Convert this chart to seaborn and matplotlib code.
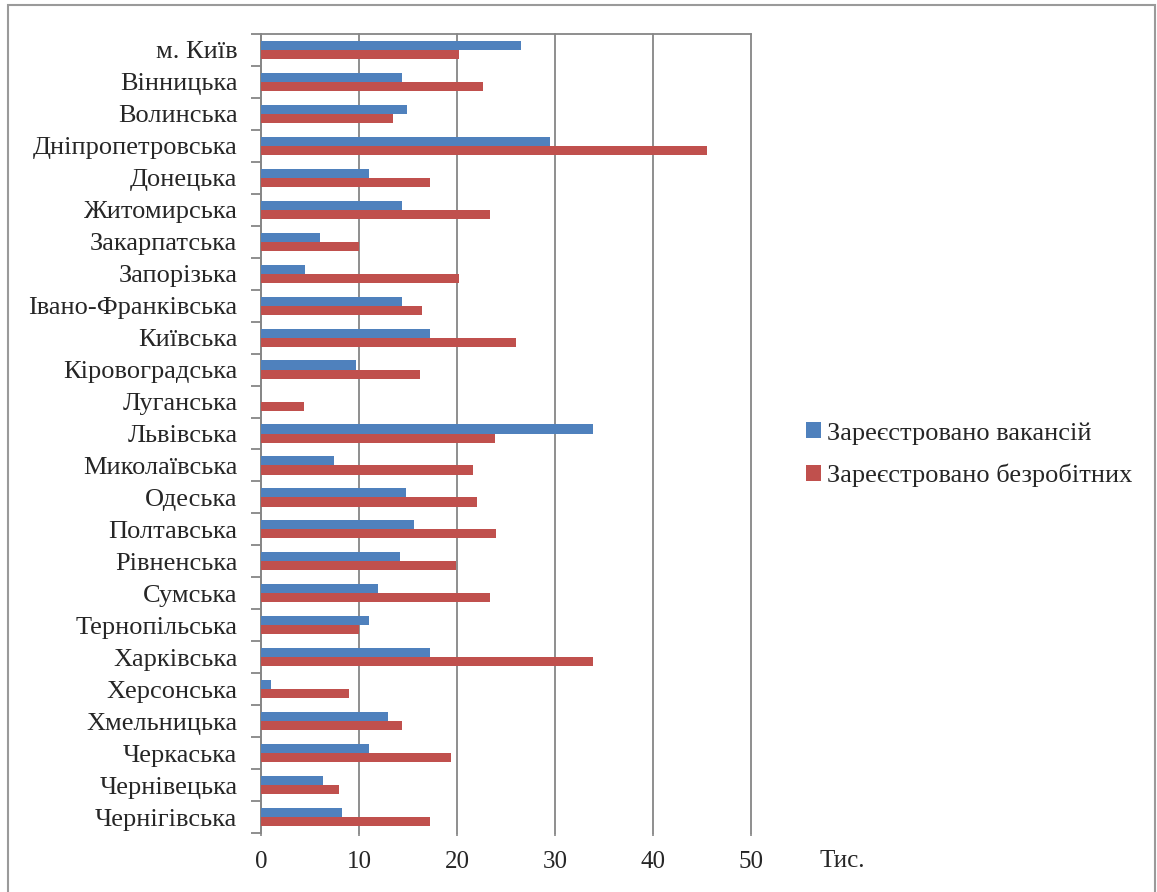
import matplotlib
matplotlib.use("Agg")
import matplotlib.pyplot as plt
import seaborn as sns
import pandas as pd
import numpy as np
from matplotlib.patches import Rectangle
from matplotlib.ticker import FixedLocator

regions = ["м. Київ", "Вінницька", "Волинська", "Дніпропетровська", "Донецька",
           "Житомирська", "Закарпатська", "Запорізька", "Івано-Франківська", "Київська",
           "Кіровоградська", "Луганська", "Львівська", "Миколаївська", "Одеська",
           "Полтавська", "Рівненська", "Сумська", "Тернопільська", "Харківська",
           "Херсонська", "Хмельницька", "Черкаська", "Чернівецька", "Чернігівська"]
vacancies = [26.5, 14.4, 14.9, 29.5, 11.0, 14.4, 6.0, 4.5, 14.4, 17.2,
             9.7, 0.0, 33.9, 7.4, 14.8, 15.6, 14.2, 11.9, 11.0, 17.2,
             1.0, 13.0, 11.0, 6.3, 8.3]
unemployed = [20.2, 22.7, 13.5, 45.5, 17.2, 23.4, 10.0, 20.2, 16.4, 26.0,
              16.2, 4.4, 23.9, 21.6, 22.0, 24.0, 19.9, 23.4, 10.0, 33.9,
              9.0, 14.4, 19.4, 8.0, 17.2]
series_names = ["Зареєстровано вакансій", "Зареєстровано безробітних"]
xticks = [0, 10, 20, 30, 40, 50]
unit_label = "Тис."

df = pd.DataFrame({
    "region": regions * 2,
    "value": vacancies + unemployed,
    "series": [series_names[0]] * len(regions) + [series_names[1]] * len(regions),
})

sns.set_theme(style="white")
plt.rcParams['font.family'] = ['Liberation Serif', 'DejaVu Serif']

fig = plt.figure(figsize=(11.57, 8.92), dpi=100)
ax = fig.add_axes([261/1157, 1-833/892, (751-261)/1157, (833-34)/892])

grid_c = "#868686"
sns.barplot(data=df, y="region", x="value", hue="series", order=regions,
            hue_order=series_names, palette=["#4F81BD", "#C0504D"],
            orient="h", width=0.57, ax=ax, saturation=1, legend=True,
            edgecolor="none", linewidth=0, zorder=3)

ax.set_xlim(0, 50)
ax.set_ylim(len(regions)-0.5, -0.5)
ax.set_xticks(xticks)
ax.set_xticklabels([str(t) for t in xticks], fontsize=18)
ax.xaxis.grid(True, color=grid_c, linewidth=1.3, zorder=0)
for gl in ax.get_xgridlines():
    gl.set_clip_on(False)
ax.set_axisbelow(True)
ax.tick_params(axis="x", length=2, pad=11, color=grid_c, width=1.2, bottom=True)
ax.tick_params(axis="y", which="major", length=0, pad=17, labelsize=19)
ax.yaxis.set_minor_locator(FixedLocator(np.arange(-0.5, len(regions), 1.0)))
ax.tick_params(axis="y", which="minor", length=7, width=1.3, color=grid_c, left=True)
ax.set_xlabel("")
ax.set_ylabel("")

for s in ["bottom", "right"]:
    ax.spines[s].set_visible(False)
for s in ["left", "top"]:
    ax.spines[s].set_color(grid_c)
    ax.spines[s].set_linewidth(1.3)

leg = ax.legend(loc="center left", bbox_to_anchor=(806/1157, 1-454.5/892),
                bbox_transform=fig.transFigure, frameon=False, fontsize=19,
                handlelength=0.55, handleheight=0.55, handletextpad=0.25,
                labelspacing=0.72, borderpad=0, borderaxespad=0)

fig.text(819/1157, 1-861/892, unit_label, fontsize=18, va="center", ha="left")

fig.add_artist(Rectangle((8/1157, -0.01), (1155-8)/1157, 1-5/892+0.01,
                         transform=fig.transFigure, fill=False,
                         edgecolor="#9a9a9a", linewidth=1.5))

fig.savefig("out.png", dpi=100)
